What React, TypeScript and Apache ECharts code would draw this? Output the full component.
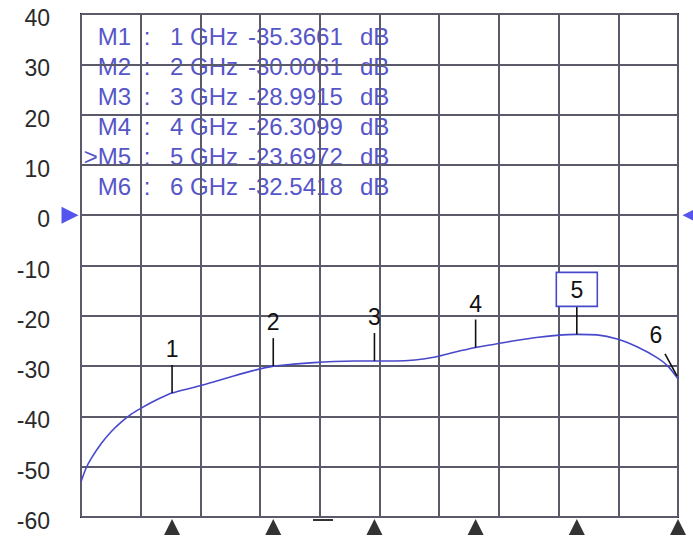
import React, { useEffect, useRef } from "react";
import * as echarts from "echarts";

// Trace data (frequency in GHz, magnitude in dB)
const traceFreqs = [0.1, 0.15, 0.2, 0.3, 0.4, 0.5, 0.6, 0.7, 0.8, 0.9, 1.0, 1.2, 1.4, 1.6, 1.8, 2.0, 2.2, 2.4, 2.6, 2.8, 3.0, 3.2, 3.4, 3.6, 3.8, 4.0, 4.2, 4.4, 4.6, 4.8, 5.0, 5.2, 5.4, 5.6, 5.8, 5.9, 6.0];
const traceValues = [-53.0, -50.3, -48.4, -45.4, -43.0, -41.1, -39.5, -38.3, -37.2, -36.2, -35.37, -34.3, -33.2, -32.0, -30.9, -30.01, -29.6, -29.3, -29.1, -29.0, -28.99, -29.0, -28.8, -28.2, -27.2, -26.31, -25.6, -24.9, -24.3, -23.9, -23.70, -23.8, -24.6, -26.2, -28.4, -30.0, -32.54];

// Markers
const markerNames = ["M1", "M2", "M3", "M4", ">M5", "M6"];
const markerFreqs = [1, 2, 3, 4, 5, 6];
const markerFreqText = ["1 GHz", "2 GHz", "3 GHz", "4 GHz", "5 GHz", "6 GHz"];
const markerValues = [-35.3661, -30.0061, -28.9915, -26.3099, -23.6972, -32.5418];
const activeMarker = 4;

// Axis
const yMin = -60;
const yMax = 40;
const yStep = 10;
const fStart = 0.1;
const fStop = 6;
const refLevel = 0;

const TRACE = "#4848cc";
const TABLE = "#5656c8";
const GRID = "#5a5a6a";
const FONT = "Liberation Sans, Arial, sans-serif";

export default function App() {
  const ref = useRef<HTMLDivElement>(null);
  useEffect(() => {
    if (!ref.current) return;
    const chart = echarts.init(ref.current, null, { renderer: "svg" });

    const tableGraphics: any[] = [];
    markerNames.forEach((name, i) => {
      const y = 36 + i * 30;
      const common = { fill: TABLE, font: `24px ${FONT}`, verticalAlign: "middle" };
      tableGraphics.push({ type: "text", z: -5, style: { ...common, text: name, x: 131, y, align: "right" } });
      tableGraphics.push({ type: "text", z: -5, style: { ...common, text: ":", x: 147, y, align: "center" } });
      tableGraphics.push({ type: "text", z: -5, style: { ...common, text: markerFreqText[i], x: 170, y, align: "left" } });
      tableGraphics.push({ type: "text", z: -5, style: { ...common, text: markerValues[i].toFixed(4), x: 248, y, align: "left" } });
      tableGraphics.push({ type: "text", z: -5, style: { ...common, text: "dB", x: 360, y, align: "left" } });
    });
    tableGraphics.push({
      type: "line",
      shape: { x1: 313, y1: 520, x2: 333, y2: 520 },
      style: { stroke: "#333", lineWidth: 2 },
    });

    const option: any = {
      animation: false,
      backgroundColor: "#ffffff",
      grid: {
        left: 81,
        right: 15,
        top: 14,
        bottom: 19,
        show: true,
        borderColor: "#1a1a1a",
        borderWidth: 2,
        backgroundColor: "transparent",
      },
      xAxis: [
        {
          type: "value",
          min: fStart,
          max: fStop,
          show: false,
          splitLine: { show: false },
        },
        {
          type: "value",
          min: 0,
          max: 10,
          interval: 1,
          axisLine: { show: false },
          axisTick: { show: false },
          axisLabel: { show: false },
          splitLine: { show: true, lineStyle: { color: GRID, width: 2 } },
        },
      ],
      yAxis: {
        type: "value",
        min: yMin,
        max: yMax,
        interval: yStep,
        axisLine: { show: false },
        axisTick: { show: false },
        axisLabel: {
          margin: 31,
          formatter: "{v|{value}}",
          rich: {
            v: {
              color: "#2a2a2a",
              fontSize: 23,
              fontFamily: FONT,
              padding: [8, 0, 0, 0],
            },
          },
        },
        splitLine: { show: true, lineStyle: { color: GRID, width: 2 } },
      },
      graphic: tableGraphics,
      series: [
        {
          type: "line",
          xAxisIndex: 0,
          data: traceFreqs.map((f, i) => [f, traceValues[i]]),
          smooth: 0.3,
          showSymbol: false,
          lineStyle: { color: TRACE, width: 1.6 },
          z: 5,
        },
        {
          type: "custom",
          xAxisIndex: 0,
          clip: false,
          z: 6,
          data: markerFreqs.map((f, i) => [f, markerValues[i]]),
          renderItem: (params: any, api: any) => {
            const i = params.dataIndex;
            const p = api.coord([api.value(0), api.value(1)]);
            const font = `23px ${FONT}`;
            const children: any[] = [];
            if (i === markerFreqs.length - 1) {
              children.push({
                type: "line",
                shape: { x1: p[0] - 1, y1: p[1] - 3, x2: p[0] - 13, y2: p[1] - 25 },
                style: { stroke: "#111", lineWidth: 1.6 },
              });
              children.push({
                type: "text",
                style: { text: String(i + 1), x: p[0] - 22, y: p[1] - 44, align: "center", verticalAlign: "middle", font, fill: "#111" },
              });
            } else {
              const top = p[1] - 28;
              children.push({
                type: "line",
                shape: { x1: p[0], y1: p[1], x2: p[0], y2: top },
                style: { stroke: "#111", lineWidth: 1.6 },
              });
              if (i === activeMarker) {
                children.push({
                  type: "rect",
                  shape: { x: p[0] - 20.5, y: top - 34, width: 41, height: 34 },
                  style: { stroke: TRACE, lineWidth: 1.6, fill: "#ffffff" },
                });
                children.push({
                  type: "text",
                  style: { text: String(i + 1), x: p[0], y: top - 16, align: "center", verticalAlign: "middle", font, fill: "#111" },
                });
              } else {
                children.push({
                  type: "text",
                  style: { text: String(i + 1), x: p[0], y: p[1] - 44, align: "center", verticalAlign: "middle", font, fill: "#111" },
                });
              }
            }
            return { type: "group", children };
          },
        },
        {
          type: "scatter",
          xAxisIndex: 0,
          clip: false,
          silent: true,
          data: markerFreqs.map((f) => [f, yMin]),
          symbol: "triangle",
          symbolSize: [16, 16],
          symbolOffset: [0, 10],
          itemStyle: { color: "#000000" },
          z: 7,
        },
        {
          type: "scatter",
          xAxisIndex: 0,
          clip: false,
          silent: true,
          data: [[fStart, refLevel]],
          symbol: "triangle",
          symbolSize: [17, 17],
          symbolRotate: -90,
          symbolOffset: [-11, 0],
          itemStyle: { color: "#2a2ae8" },
          z: 7,
        },
        {
          type: "scatter",
          xAxisIndex: 0,
          clip: false,
          silent: true,
          data: [[fStop, refLevel]],
          symbol: "triangle",
          symbolSize: [17, 17],
          symbolRotate: 90,
          symbolOffset: [13, 0],
          itemStyle: { color: "#2a2ae8" },
          z: 7,
        },
      ],
    };
    chart.setOption(option);
    return () => chart.dispose();
  }, []);
  return (
    <div
      ref={ref}
      style={{ position: "fixed", left: 0, top: 0, width: 693, height: 536, background: "#fff" }}
    />
  );
}
